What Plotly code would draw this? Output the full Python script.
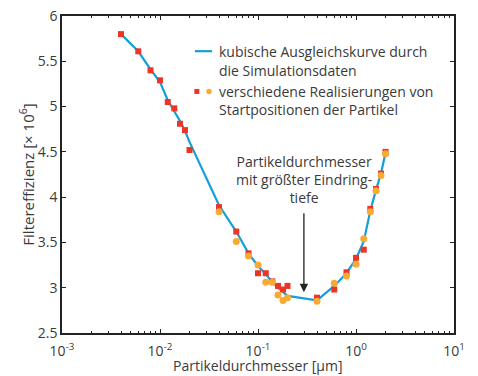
import math
import plotly.graph_objects as go

# Data (particle diameter in µm, filter efficiency in 10^6)
d_fit = [0.004, 0.006, 0.008, 0.01, 0.012, 0.014, 0.016, 0.018, 0.02, 0.04, 0.06, 0.08,
         0.1, 0.12, 0.14, 0.16, 0.18, 0.2, 0.4, 0.6, 0.8, 1.0, 1.2, 1.4, 1.6, 1.8, 2.0]
eff_fit = [5.80, 5.61, 5.41, 5.27, 5.07, 4.95, 4.84, 4.73, 4.61, 3.91, 3.62, 3.38,
           3.24, 3.15, 3.06, 3.00, 2.95, 2.91, 2.86, 3.02, 3.16, 3.32, 3.51, 3.85, 4.08, 4.26, 4.49]

d_red = [0.004, 0.006, 0.008, 0.01, 0.012, 0.014, 0.016, 0.018, 0.02, 0.04, 0.06, 0.08,
         0.1, 0.12, 0.14, 0.16, 0.18, 0.2, 0.4, 0.6, 0.8, 1.0, 1.2, 1.4, 1.6, 1.8, 2.0]
eff_red = [5.80, 5.61, 5.40, 5.29, 5.05, 4.98, 4.81, 4.74, 4.52, 3.89, 3.62, 3.38,
           3.16, 3.16, 3.07, 3.02, 2.98, 3.02, 2.89, 2.98, 3.17, 3.33, 3.42, 3.87, 4.09, 4.26, 4.50]

d_orange = [0.04, 0.06, 0.08, 0.1, 0.12, 0.14, 0.16, 0.18, 0.2, 0.4, 0.6, 0.8,
            1.0, 1.2, 1.4, 1.6, 1.8, 2.0]
eff_orange = [3.84, 3.51, 3.35, 3.25, 3.06, 3.06, 2.92, 2.86, 2.89, 2.85, 3.05, 3.13,
              3.26, 3.54, 3.84, 4.07, 4.24, 4.48]

x_ticks = [0.001, 0.01, 0.1, 1, 10]
x_ticktext = ["10<sup>-3</sup>", "10<sup>-2</sup>", "10<sup>-1</sup>", "10<sup>0</sup>", "10<sup>1</sup>"]

x_title = "Partikeldurchmesser [µm]"
y_title = "Filtereffizienz [× 10<sup>6</sup>]"
legend_line = ["kubische Ausgleichskurve durch", "die Simulationsdaten"]
legend_pts = ["verschiedene Realisierungen von", "Startpositionen der Partikel"]
annot_text = "Partikeldurchmesser<br>mit größter Eindring-<br>tiefe"
arrow_x = 0.294
arrow_tip = 2.95
arrow_tail = 3.84

BLUE = "#159FDA"
RED = "#EC3427"
ORANGE = "#F8AA33"
TXT = "#3a3a3a"
FONT = "Open Sans"

minor_vals = [m * 10 ** e for e in range(-3, 1) for m in range(2, 10)]

fig = go.Figure()
fig.add_trace(go.Scatter(x=d_fit, y=eff_fit, mode="lines",
                         line=dict(color=BLUE, width=2.2), showlegend=False))
fig.add_trace(go.Scatter(x=d_red, y=eff_red, mode="markers",
                         marker=dict(symbol="square", color=RED, size=6), showlegend=False))
fig.add_trace(go.Scatter(x=d_orange, y=eff_orange, mode="markers",
                         marker=dict(symbol="circle", color=ORANGE, size=7), showlegend=False))

axis_common = dict(showline=True, linecolor="#222", linewidth=1.5, mirror="ticks",
                   ticks="inside", tickcolor="#222", ticklen=4, tickwidth=1,
                   showgrid=False, zeroline=False, automargin=False,
                   tickfont=dict(family=FONT, size=14, color=TXT))

fig.update_xaxes(type="log", range=[-3, 1], tickmode="array", tickvals=x_ticks,
                 ticktext=x_ticktext, ticklabelstandoff=4,
                 minor=dict(ticks="inside", ticklen=2.5, tickcolor="#222",
                            tickmode="array", tickvals=minor_vals, showgrid=False),
                 **axis_common)
fig.update_yaxes(range=[2.5, 6], dtick=0.5, tick0=2.5,
                 title=dict(text=y_title,
                            font=dict(family=FONT, size=15, color=TXT), standoff=0),
                 **axis_common)

# X axis title as annotation for precise placement
fig.add_annotation(x=0.5, y=-0.103, xref="paper", yref="paper", text=x_title,
                   showarrow=False, xanchor="center", yanchor="middle", borderpad=0,
                   font=dict(family=FONT, size=14, color=TXT))

# Arrow annotation
lx = math.log10(arrow_x)
fig.add_annotation(x=lx, y=arrow_tip, ax=lx, ay=arrow_tail, xref="x", yref="y",
                   axref="x", ayref="y", text="", showarrow=True,
                   arrowhead=2, arrowsize=1.3, arrowwidth=1.3, arrowcolor="#222")
fig.add_annotation(x=lx, y=4.19, xref="x", yref="y", text=annot_text, showarrow=False,
                   xanchor="center", yanchor="middle", align="center",
                   font=dict(family=FONT, size=14, color=TXT))

# Manual legend
leg_x_text = 0.396
rows_y = [0.889, 0.828, 0.762, 0.705]
for t, yy in zip(legend_line + legend_pts, rows_y):
    fig.add_annotation(x=leg_x_text, y=yy, xref="paper", yref="paper", text=t,
                       showarrow=False, xanchor="left", yanchor="middle",
                       font=dict(family=FONT, size=14, color=TXT))
fig.add_shape(type="line", xref="paper", yref="paper", x0=0.339, x1=0.383,
              y0=rows_y[0], y1=rows_y[0], line=dict(color=BLUE, width=2.2))
fig.add_shape(type="rect", xref="paper", yref="paper", xsizemode="pixel", ysizemode="pixel",
              xanchor=0.344, yanchor=rows_y[2], x0=-2.5, x1=2.5, y0=-2.5, y1=2.5,
              fillcolor=RED, line=dict(width=0))
fig.add_shape(type="circle", xref="paper", yref="paper", xsizemode="pixel", ysizemode="pixel",
              xanchor=0.375, yanchor=rows_y[2], x0=-2.7, x1=2.7, y0=-2.7, y1=2.7,
              fillcolor=ORANGE, line=dict(width=0))

fig.update_layout(width=478, height=376, margin=dict(l=62, r=24, t=16, b=43),
                  plot_bgcolor="white", paper_bgcolor="white",
                  font=dict(family=FONT, color=TXT))

fig.write_html("out.html")
